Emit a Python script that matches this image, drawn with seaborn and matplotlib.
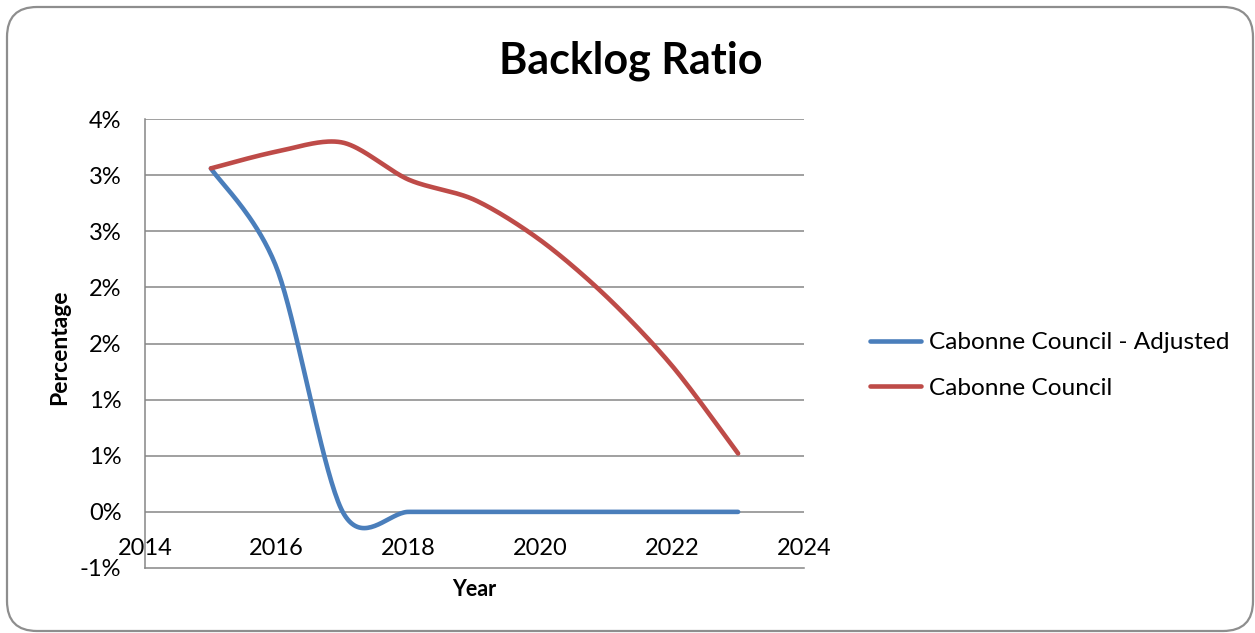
import numpy as np
import pandas as pd
import matplotlib
matplotlib.use("Agg")
import matplotlib.pyplot as plt
import seaborn as sns
from matplotlib.patches import FancyBboxPatch
from matplotlib.transforms import IdentityTransform

# Backlog ratio (%) by year
years = [2015, 2016, 2017, 2018, 2019, 2020, 2021, 2022, 2023]
adjusted = [3.06, 2.17, 0.0, 0.0, 0.0, 0.0, 0.0, 0.0, 0.0]
council = [3.06, 3.21, 3.29, 2.96, 2.78, 2.42, 1.92, 1.30, 0.52]
series_names = ["Cabonne Council - Adjusted", "Cabonne Council"]
series_colors = ["#4A7EBB", "#BE4B48"]

x_ticks = [2014, 2016, 2018, 2020, 2022, 2024]
y_ticks = [-0.5, 0.0, 0.5, 1.0, 1.5, 2.0, 2.5, 3.0, 3.5]
y_ticklabels = ["-1%", "0%", "1%", "1%", "2%", "2%", "3%", "3%", "4%"]


def smooth_curve(xs, ys, tension=0.15, steps=40):
    """Piecewise cubic Bezier through the points (Catmull-Rom style)."""
    pts = np.column_stack([xs, ys]).astype(float)
    n = len(pts)
    out = [pts[0]]
    t = np.linspace(0, 1, steps)[1:, None]
    for i in range(n - 1):
        p0 = pts[max(i - 1, 0)]
        p1 = pts[i]
        p2 = pts[i + 1]
        p3 = pts[min(i + 2, n - 1)]
        c1 = p1 + (p2 - p0) * tension
        c2 = p2 - (p3 - p1) * tension
        seg = ((1 - t) ** 3) * p1 + 3 * ((1 - t) ** 2) * t * c1 \
            + 3 * (1 - t) * t ** 2 * c2 + t ** 3 * p2
        out.extend(seg)
    return np.array(out)


frames = []
for name, vals in zip(series_names, [adjusted, council]):
    curve = smooth_curve(years, vals)
    frames.append(pd.DataFrame({"Year": curve[:, 0], "Percentage": curve[:, 1],
                                "Series": name, "step": np.arange(len(curve))}))
df = pd.concat(frames, ignore_index=True)

sns.set_theme(style="white")
plt.rcParams["font.family"] = ["Lato", "DejaVu Sans"]
plt.rcParams["text.color"] = "black"

W, H = 1255, 633
fig = plt.figure(figsize=(W / 100, H / 100), dpi=100)
fig.patch.set_facecolor("white")

# Rounded chart-area frame
frame = FancyBboxPatch((7, 2), 1246, 624, boxstyle="round,pad=0,rounding_size=30",
                       transform=IdentityTransform(), facecolor="white",
                       edgecolor="#8E8E8E", linewidth=1.6, zorder=-10)
fig.patches.append(frame)

ax = fig.add_axes([145 / W, 1 - 568 / H, (804 - 145) / W, (568 - 119) / H])
ax.set_facecolor("none")
ax.set_zorder(1)

sns.lineplot(data=df, x="Year", y="Percentage", hue="Series", hue_order=series_names,
             palette=series_colors, sort=False, estimator=None, units="Series",
             linewidth=3.3, ax=ax, legend=False)
for line in ax.get_lines():
    line.set_solid_capstyle("round")

ax.set_xlim(2014, 2024)
ax.set_ylim(-0.5, 3.5)
ax.set_xticks(x_ticks)
ax.set_xticklabels([str(v) for v in x_ticks])
ax.set_yticks(y_ticks)
ax.set_yticklabels(y_ticklabels)

for y in y_ticks[1:]:
    ax.axhline(y, color="#868686", linewidth=1.1, zorder=0.5)

for side in ["top", "right"]:
    ax.spines[side].set_visible(False)
for side in ["left", "bottom"]:
    ax.spines[side].set_color("#868686")
    ax.spines[side].set_linewidth(1.1)

ax.tick_params(axis="x", length=0, pad=-21.5, labelsize=17, labelcolor="black")
ax.tick_params(axis="y", length=0, pad=17, labelsize=17, labelcolor="black")

ax.set_xlabel("")
ax.set_ylabel("")
fig.text(474 / W, 1 - 589 / H, "Year", ha="center", va="center",
         fontsize=15.5, fontweight="bold", color="black")
fig.text(60 / W, 1 - 347 / H, "Percentage", ha="center", va="center",
         rotation=90, fontsize=16.5, fontweight="bold", color="black")
fig.text(631 / W, 1 - 61 / H, "Backlog Ratio", ha="center", va="center",
         fontsize=31, fontweight="bold", color="black")

handles = [plt.Line2D([], [], color=c, linewidth=3.3) for c in series_colors]
leg = fig.legend(handles, series_names, loc="upper left",
                 bbox_to_anchor=(870 / W, 1 - 332 / H), frameon=False,
                 fontsize=17.6, handlelength=2.1, handletextpad=0.3,
                 labelspacing=1.0, borderpad=0, borderaxespad=0)
for txt in leg.get_texts():
    txt.set_color("black")

fig.savefig("out.png", dpi=100, facecolor="white")
